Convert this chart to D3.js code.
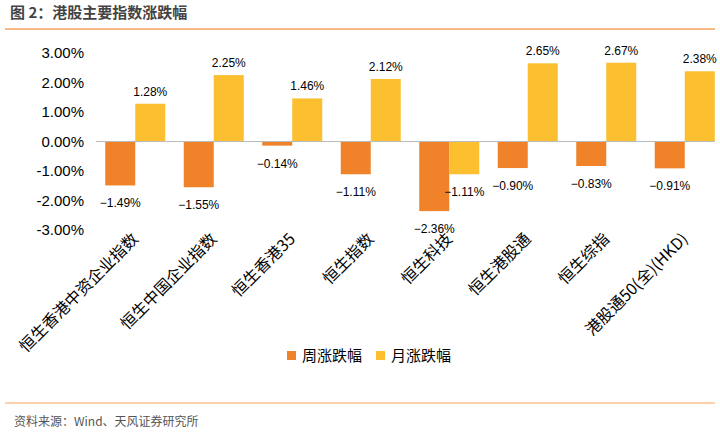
<!DOCTYPE html>
<html><head><meta charset="utf-8">
<script src="https://cdn.jsdelivr.net/npm/d3@7"></script>
<style>body{margin:0;background:#fff;font-family:"Noto Sans CJK SC","Liberation Sans",sans-serif;}</style>
</head><body><svg id="c" width="720" height="438"></svg>
<script>
"use strict";
var categories = ["恒生香港中资企业指数","恒生中国企业指数","恒生香港35","恒生指数","恒生科技","恒生港股通","恒生综指","港股通50(全)(HKD)"];
var weekly = [-1.49,-1.55,-0.14,-1.11,-2.36,-0.90,-0.83,-0.91];
var monthly = [1.28,2.25,1.46,2.12,-1.11,2.65,2.67,2.38];
var yTicks = [3,2,1,0,-1,-2,-3];

var svg = d3.select("#c");
var orange = "#F0822A", yellow = "#FBBF2F";

var x = d3.scaleBand().domain(categories).range([96,724]);
var y = d3.scaleLinear().domain([-3,3]).range([230,53]);

var bw = 30;
svg.selectAll(".w").data(weekly).enter().append("rect")
  .attr("x",function(d,i){return x(categories[i])+x.bandwidth()/2-bw;})
  .attr("y",function(d){return y(Math.max(0,d));}).attr("width",bw)
  .attr("height",function(d){return Math.abs(y(d)-y(0));}).attr("fill",orange);
svg.selectAll(".m").data(monthly).enter().append("rect")
  .attr("x",function(d,i){return x(categories[i])+x.bandwidth()/2;})
  .attr("y",function(d){return y(Math.max(0,d));}).attr("width",bw)
  .attr("height",function(d){return Math.abs(y(d)-y(0));}).attr("fill",yellow);

svg.append("rect").attr("x",716).attr("y",30).attr("width",10).attr("height",300).attr("fill","#fff");

svg.append("text").attr("x",10).attr("y",18).attr("font-size",15).attr("font-weight","bold")
  .attr("fill","#444").text("图 2：港股主要指数涨跌幅");
svg.append("line").attr("x1",5).attr("x2",715).attr("y1",29).attr("y2",29).attr("stroke","#F5A05A").attr("stroke-width",1.5);
svg.append("line").attr("x1",5).attr("x2",715).attr("y1",403).attr("y2",403).attr("stroke","#F5A05A").attr("stroke-width",1);
svg.append("text").attr("x",14).attr("y",426).attr("font-size",12).attr("fill","#555").text("资料来源：Wind、天风证券研究所");

svg.selectAll(".yt").data(yTicks).enter().append("text")
  .attr("x",84).attr("y",function(d){return y(d)+5;}).attr("text-anchor","end")
  .attr("font-family","Liberation Sans, Arial").attr("font-size",15).attr("fill","#000")
  .text(function(d){return d.toFixed(2)+"%";});

svg.append("line").attr("x1",96).attr("x2",715).attr("y1",y(0)).attr("y2",y(0)).attr("stroke","#bbb");

function fmt(d){return (d<0?"\u2212":"")+Math.abs(d).toFixed(2)+"%";}
function lbl(data,off){
  svg.selectAll(null).data(data).enter().append("text")
    .attr("x",function(d,i){return x(categories[i])+x.bandwidth()/2+off;})
    .attr("y",function(d){return d>=0?y(d)-8:y(d)+22;})
    .attr("text-anchor","middle").attr("font-family","Liberation Sans, Arial").attr("font-size",12)
    .text(fmt);
}
lbl(weekly,-bw/2);
lbl(monthly,bw/2);

svg.selectAll(".xl").data(categories).enter().append("text")
  .attr("transform",function(d){return "translate("+(x(d)+x.bandwidth()/2+4)+",240) rotate(-45)";})
  .attr("text-anchor","end").attr("font-size",16).attr("fill","#000").text(function(d){return d;});

var lg = svg.append("g").attr("transform","translate(287,351)");
lg.append("rect").attr("width",9).attr("height",9).attr("fill",orange);
lg.append("text").attr("x",15).attr("y",10).attr("font-size",15).text("周涨跌幅");
lg.append("rect").attr("x",89).attr("width",9).attr("height",9).attr("fill",yellow);
lg.append("text").attr("x",104).attr("y",10).attr("font-size",15).text("月涨跌幅");
</script></body></html>
